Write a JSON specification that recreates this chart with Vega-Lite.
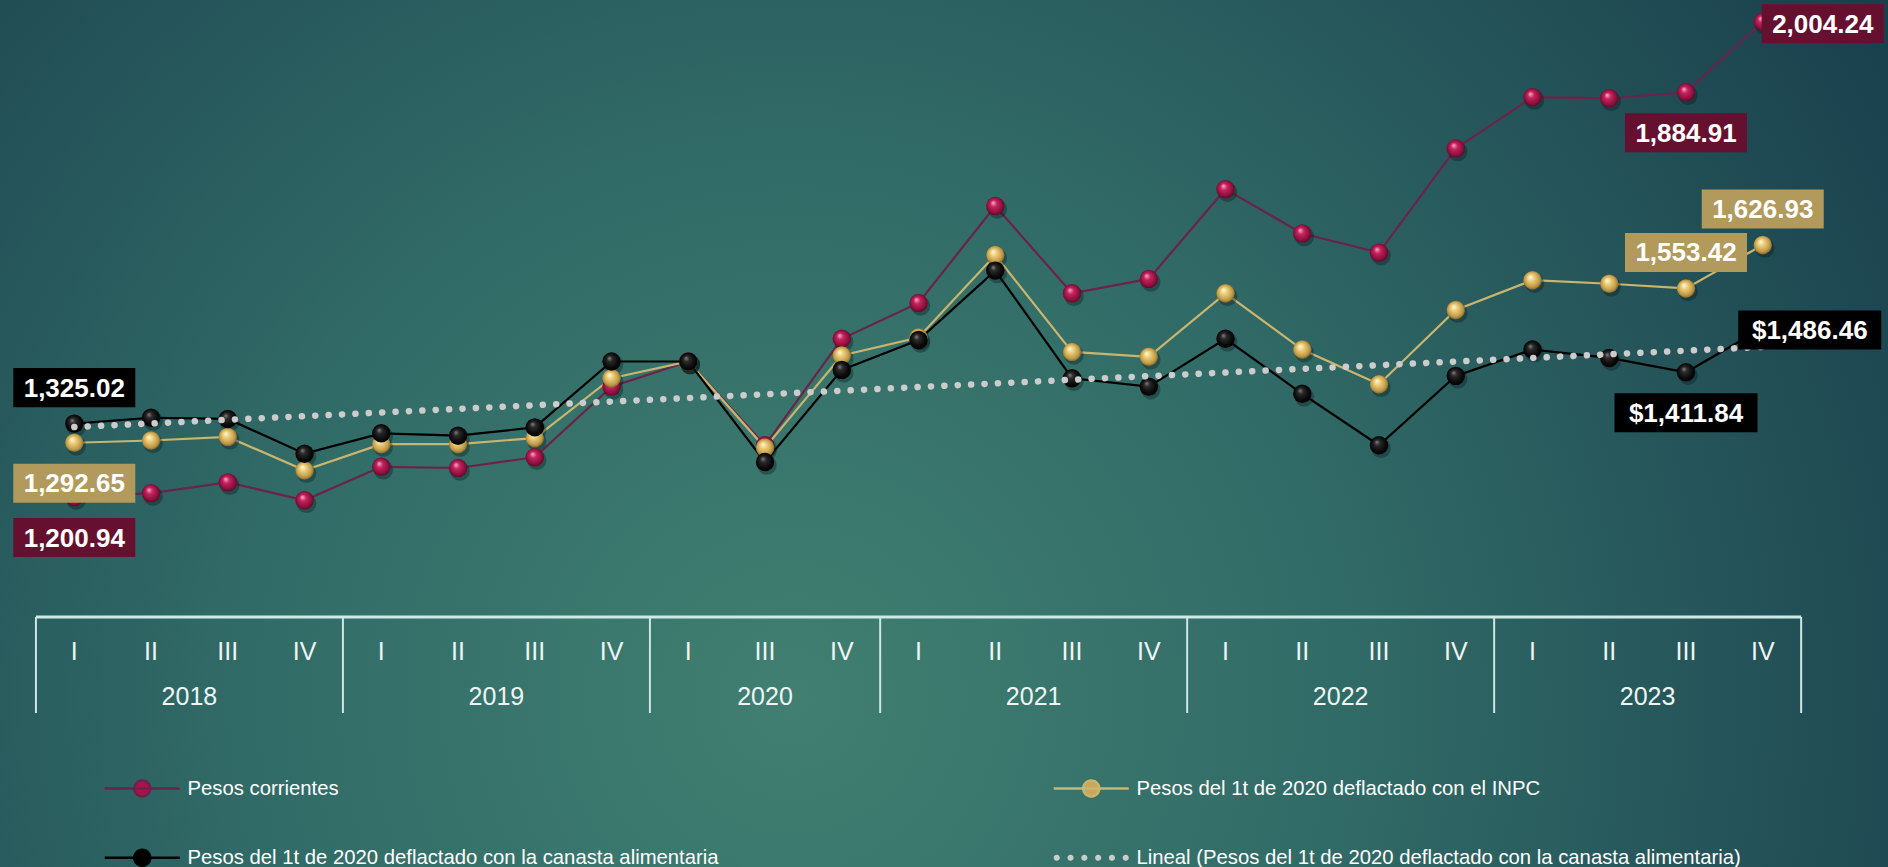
{
  "$schema": "https://vega.github.io/schema/vega-lite/v6.json",
  "width": 1888,
  "height": 867,
  "autosize": {"type": "fit", "contains": "padding"},
  "padding": 0,
  "background": "#2a6063",
  "config": {"view": {"stroke": null}, "font": "Liberation Sans"},
  "datasets": {
    "trimestres": [
      {"i": 0, "p": "2018-I", "q": "I", "year": "2018", "Pesos corrientes": 1200.94, "Pesos del 1t de 2020 deflactado con el INPC": 1292.65, "Pesos del 1t de 2020 deflactado con la canasta alimentaria": 1325.02},
      {"i": 1, "p": "2018-II", "q": "II", "year": "2018", "Pesos corrientes": 1207.5, "Pesos del 1t de 2020 deflactado con el INPC": 1296.5, "Pesos del 1t de 2020 deflactado con la canasta alimentaria": 1334.9},
      {"i": 2, "p": "2018-III", "q": "III", "year": "2018", "Pesos corrientes": 1225.7, "Pesos del 1t de 2020 deflactado con el INPC": 1302.6, "Pesos del 1t de 2020 deflactado con la canasta alimentaria": 1332.9},
      {"i": 3, "p": "2018-IV", "q": "IV", "year": "2018", "Pesos corrientes": 1195.4, "Pesos del 1t de 2020 deflactado con el INPC": 1246.0, "Pesos del 1t de 2020 deflactado con la canasta alimentaria": 1274.2},
      {"i": 4, "p": "2019-I", "q": "I", "year": "2019", "Pesos corrientes": 1252.0, "Pesos del 1t de 2020 deflactado con el INPC": 1290.4, "Pesos del 1t de 2020 deflactado con la canasta alimentaria": 1308.6},
      {"i": 5, "p": "2019-II", "q": "II", "year": "2019", "Pesos corrientes": 1250.0, "Pesos del 1t de 2020 deflactado con el INPC": 1290.4, "Pesos del 1t de 2020 deflactado con la canasta alimentaria": 1304.6},
      {"i": 6, "p": "2019-III", "q": "III", "year": "2019", "Pesos corrientes": 1268.2, "Pesos del 1t de 2020 deflactado con el INPC": 1300.6, "Pesos del 1t de 2020 deflactado con la canasta alimentaria": 1318.7},
      {"i": 7, "p": "2019-IV", "q": "IV", "year": "2019", "Pesos corrientes": 1387.5, "Pesos del 1t de 2020 deflactado con el INPC": 1401.7, "Pesos del 1t de 2020 deflactado con la canasta alimentaria": 1430.0},
      {"i": 8, "p": "2020-I", "q": "I", "year": "2020", "Pesos corrientes": 1430.0, "Pesos del 1t de 2020 deflactado con el INPC": 1430.0, "Pesos del 1t de 2020 deflactado con la canasta alimentaria": 1430.0},
      {"i": 9, "p": "2020-III", "q": "III", "year": "2020", "Pesos corrientes": 1288.4, "Pesos del 1t de 2020 deflactado con el INPC": 1284.4, "Pesos del 1t de 2020 deflactado con la canasta alimentaria": 1260.1},
      {"i": 10, "p": "2020-IV", "q": "IV", "year": "2020", "Pesos corrientes": 1468.4, "Pesos del 1t de 2020 deflactado con el INPC": 1440.1, "Pesos del 1t de 2020 deflactado con la canasta alimentaria": 1415.8},
      {"i": 11, "p": "2021-I", "q": "I", "year": "2021", "Pesos corrientes": 1529.0, "Pesos del 1t de 2020 deflactado con el INPC": 1470.4, "Pesos del 1t de 2020 deflactado con la canasta alimentaria": 1466.4},
      {"i": 12, "p": "2021-II", "q": "II", "year": "2021", "Pesos corrientes": 1692.8, "Pesos del 1t de 2020 deflactado con el INPC": 1609.9, "Pesos del 1t de 2020 deflactado con la canasta alimentaria": 1583.6},
      {"i": 13, "p": "2021-III", "q": "III", "year": "2021", "Pesos corrientes": 1545.2, "Pesos del 1t de 2020 deflactado con el INPC": 1446.2, "Pesos del 1t de 2020 deflactado con la canasta alimentaria": 1401.7},
      {"i": 14, "p": "2021-IV", "q": "IV", "year": "2021", "Pesos corrientes": 1569.5, "Pesos del 1t de 2020 deflactado con el INPC": 1438.0, "Pesos del 1t de 2020 deflactado con la canasta alimentaria": 1387.5},
      {"i": 15, "p": "2022-I", "q": "I", "year": "2022", "Pesos corrientes": 1721.2, "Pesos del 1t de 2020 deflactado con el INPC": 1545.2, "Pesos del 1t de 2020 deflactado con la canasta alimentaria": 1468.4},
      {"i": 16, "p": "2022-II", "q": "II", "year": "2022", "Pesos corrientes": 1646.3, "Pesos del 1t de 2020 deflactado con el INPC": 1450.2, "Pesos del 1t de 2020 deflactado con la canasta alimentaria": 1375.4},
      {"i": 17, "p": "2022-III", "q": "III", "year": "2022", "Pesos corrientes": 1614.0, "Pesos del 1t de 2020 deflactado con el INPC": 1391.5, "Pesos del 1t de 2020 deflactado con la canasta alimentaria": 1288.4},
      {"i": 18, "p": "2022-IV", "q": "IV", "year": "2022", "Pesos corrientes": 1789.9, "Pesos del 1t de 2020 deflactado con el INPC": 1517.0, "Pesos del 1t de 2020 deflactado con la canasta alimentaria": 1405.7},
      {"i": 19, "p": "2023-I", "q": "I", "year": "2023", "Pesos corrientes": 1876.8, "Pesos del 1t de 2020 deflactado con el INPC": 1567.4, "Pesos del 1t de 2020 deflactado con la canasta alimentaria": 1450.2},
      {"i": 20, "p": "2023-II", "q": "II", "year": "2023", "Pesos corrientes": 1874.8, "Pesos del 1t de 2020 deflactado con el INPC": 1561.4, "Pesos del 1t de 2020 deflactado con la canasta alimentaria": 1436.0},
      {"i": 21, "p": "2023-III", "q": "III", "year": "2023", "Pesos corrientes": 1884.91, "Pesos del 1t de 2020 deflactado con el INPC": 1553.42, "Pesos del 1t de 2020 deflactado con la canasta alimentaria": 1411.84},
      {"i": 22, "p": "2023-IV", "q": "IV", "year": "2023", "Pesos corrientes": 2004.24, "Pesos del 1t de 2020 deflactado con el INPC": 1626.93, "Pesos del 1t de 2020 deflactado con la canasta alimentaria": 1486.46}
    ],
    "etiquetas": [
      {"i": 0, "s": "Pesos del 1t de 2020 deflactado con la canasta alimentaria", "v": 1325.02, "t": "1,325.02"},
      {"i": 0, "s": "Pesos del 1t de 2020 deflactado con el INPC", "v": 1292.65, "t": "1,292.65"},
      {"i": 0, "s": "Pesos corrientes", "v": 1200.94, "t": "1,200.94"},
      {"i": 21, "s": "Pesos corrientes", "v": 1884.91, "t": "1,884.91"},
      {"i": 22, "s": "Pesos corrientes", "v": 2004.24, "t": "2,004.24"},
      {"i": 21, "s": "Pesos del 1t de 2020 deflactado con el INPC", "v": 1553.42, "t": "1,553.42"},
      {"i": 22, "s": "Pesos del 1t de 2020 deflactado con el INPC", "v": 1626.93, "t": "1,626.93"},
      {"i": 21, "s": "Pesos del 1t de 2020 deflactado con la canasta alimentaria", "v": 1411.84, "t": "$1,411.84"},
      {"i": 22, "s": "Pesos del 1t de 2020 deflactado con la canasta alimentaria", "v": 1486.46, "t": "$1,486.46"}
    ]
  },
  "resolve": {"scale": {"x": "independent", "y": "independent"}},
  "layer": [
    {
      "data": {"values": [{}]},
      "mark": {
        "type": "rect",
        "fill": {
          "gradient": "radial",
          "x1": 0.42, "y1": 0.64, "r1": 0,
          "x2": 0.42, "y2": 0.64, "r2": 0.72,
          "stops": [
            {"offset": 0, "color": "#407f71"},
            {"offset": 0.4, "color": "#316b67"},
            {"offset": 1, "color": "#173b4a"}
          ]
        }
      },
      "encoding": {}
    },
    {
      "data": {"name": "trimestres"},
      "resolve": {"scale": {"x": "independent"}},
      "layer": [
        {
          "layer": [
            {
              "transform": [{"filter": "datum.q === 'I'"}],
              "mark": {"type": "rule", "color": "#cfe6e3", "strokeWidth": 2},
              "encoding": {
                "x": {"field": "p", "type": "nominal", "bandPosition": 0, "sort": null, "scale": {"type": "band", "domain": ["2018-I", "2018-II", "2018-III", "2018-IV", "2019-I", "2019-II", "2019-III", "2019-IV", "2020-I", "2020-III", "2020-IV", "2021-I", "2021-II", "2021-III", "2021-IV", "2022-I", "2022-II", "2022-III", "2022-IV", "2023-I", "2023-II", "2023-III", "2023-IV"], "paddingInner": 0, "paddingOuter": 0.8, "align": 0.2927}, "axis": null},
                "y": {"datum": 0, "type": "quantitative", "scale": {"domain": [0, 1], "range": [617, 713], "nice": false, "zero": false}, "axis": null},
                "y2": {"datum": 1}
              }
            },
            {
              "transform": [{"filter": "datum.p === '2023-IV'"}],
              "mark": {"type": "rule", "color": "#cfe6e3", "strokeWidth": 2},
              "encoding": {
                "x": {"field": "p", "type": "nominal", "bandPosition": 1, "sort": null, "scale": {"type": "band", "domain": ["2018-I", "2018-II", "2018-III", "2018-IV", "2019-I", "2019-II", "2019-III", "2019-IV", "2020-I", "2020-III", "2020-IV", "2021-I", "2021-II", "2021-III", "2021-IV", "2022-I", "2022-II", "2022-III", "2022-IV", "2023-I", "2023-II", "2023-III", "2023-IV"], "paddingInner": 0, "paddingOuter": 0.8, "align": 0.2927}, "axis": null},
                "y": {"datum": 0, "type": "quantitative", "scale": {"domain": [0, 1], "range": [617, 713], "nice": false, "zero": false}, "axis": null},
                "y2": {"datum": 1}
              }
            }
          ]
        },
        {
          "layer": [
            {
              "data": {"values": [{}]},
              "mark": {"type": "rule", "color": "#cdeae6", "strokeWidth": 3},
              "encoding": {
                "x": {"datum": -0.5, "type": "quantitative", "scale": {"domain": [-0.9681, 23.632], "nice": false, "zero": false}, "axis": null},
                "x2": {"datum": 22.5},
                "y": {"datum": 0, "type": "quantitative", "scale": {"domain": [0, 1], "range": [617, 713], "nice": false, "zero": false}, "axis": null}
              }
            },
            {
              "mark": {"type": "text", "fontSize": 25, "color": "#eef5f3", "baseline": "middle", "align": "center"},
              "encoding": {
                "x": {"field": "i", "type": "quantitative", "scale": {"domain": [-0.9681, 23.632], "nice": false, "zero": false}, "axis": null},
                "y": {"datum": 0.36, "type": "quantitative", "scale": {"domain": [0, 1], "range": [617, 713], "nice": false, "zero": false}, "axis": null},
                "text": {"field": "q"}
              }
            },
            {
              "mark": {"type": "text", "fontSize": 25, "color": "#eef5f3", "baseline": "middle", "align": "center"},
              "encoding": {
                "x": {"aggregate": "mean", "field": "i", "type": "quantitative", "scale": {"domain": [-0.9681, 23.632], "nice": false, "zero": false}, "axis": null},
                "y": {"datum": 0.833, "type": "quantitative", "scale": {"domain": [0, 1], "range": [617, 713], "nice": false, "zero": false}, "axis": null},
                "text": {"field": "year"}
              }
            }
          ]
        }
      ]
    },
    {
      "data": {"name": "trimestres"},
      "transform": [{"fold": ["Pesos corrientes", "Pesos del 1t de 2020 deflactado con el INPC", "Pesos del 1t de 2020 deflactado con la canasta alimentaria"], "as": ["s", "v"]}],
      "encoding": {
        "x": {"field": "i", "type": "quantitative", "scale": {"domain": [-0.9681, 23.632], "nice": false, "zero": false}, "axis": null},
        "y": {"field": "v", "type": "quantitative", "scale": {"domain": [575.7, 2040.9], "nice": false, "zero": false}, "axis": null}
      },
      "layer": [
        {
          "mark": {"type": "line", "strokeWidth": 2.2},
          "encoding": {
            "color": {
              "field": "s", "type": "nominal",
              "scale": {"domain": ["Pesos corrientes", "Pesos del 1t de 2020 deflactado con el INPC", "Pesos del 1t de 2020 deflactado con la canasta alimentaria", "Lineal (Pesos del 1t de 2020 deflactado con la canasta alimentaria)"], "range": ["#6a2449", "#c9b56e", "#000000", "#cccccc"]},
              "legend": {
                "orient": "none", "legendX": 125.75, "legendY": 771.75, "direction": "horizontal",
                "columns": 2, "columnPadding": 330, "rowPadding": 39.5, "padding": 0, "title": null,
                "labelFont": "Liberation Sans", "labelFontSize": 20.3, "labelColor": "#ffffff", "labelOffset": 28.75, "labelLimit": 700,
                "symbolSize": 900, "symbolStrokeWidth": 2.5, "symbolOffset": 0,
                "encode": {
                  "symbols": {
                    "update": {
                      "shape": {"signal": "indexof(datum.value,'Lineal')===0 ? 'M-2.42,0A0.12,0.12,0,1,0,-2.18,0A0.12,0.12,0,1,0,-2.42,0ZM-1.5,0A0.12,0.12,0,1,0,-1.26,0A0.12,0.12,0,1,0,-1.5,0ZM-0.58,0A0.12,0.12,0,1,0,-0.34,0A0.12,0.12,0,1,0,-0.58,0ZM0.34,0A0.12,0.12,0,1,0,0.58,0A0.12,0.12,0,1,0,0.34,0ZM1.26,0A0.12,0.12,0,1,0,1.5,0A0.12,0.12,0,1,0,1.26,0ZM2.18,0A0.12,0.12,0,1,0,2.42,0A0.12,0.12,0,1,0,2.18,0Z' : 'M-2.5,0H2.5M-0.533,0A0.533,0.533,0,1,0,0.533,0A0.533,0.533,0,1,0,-0.533,0Z'"},
                      "fill": {"signal": "datum.value === 'Pesos corrientes' ? '#a3164b' : (datum.value === 'Pesos del 1t de 2020 deflactado con el INPC' ? '#c9a65a' : scale('color', datum.value))"},
                      "stroke": {"signal": "datum.value === 'Pesos del 1t de 2020 deflactado con el INPC' ? '#b8963f' : scale('color', datum.value)"},
                      "strokeDash": {"value": [1, 0]},
                      "opacity": {"value": 1}
                    }
                  }
                }
              }
            }
          }
        },
        {
          "mark": {"type": "point", "filled": true, "size": 380, "opacity": 0.35, "fill": "#061619", "strokeWidth": 0, "xOffset": 2, "yOffset": 3},
          "encoding": {}
        },
        {
          "transform": [{"filter": "datum.s === 'Pesos corrientes'"}],
          "mark": {
            "type": "point", "filled": true, "size": 340, "opacity": 1, "strokeWidth": 0,
            "fill": {"gradient": "radial", "x1": 0.38, "y1": 0.32, "r1": 0.02, "x2": 0.5, "y2": 0.5, "r2": 0.55,
              "stops": [{"offset": 0, "color": "#ff9ec0"}, {"offset": 0.3, "color": "#c4245e"}, {"offset": 0.75, "color": "#8a0f3c"}, {"offset": 1, "color": "#4d0720"}]}
          },
          "encoding": {}
        },
        {
          "transform": [{"filter": "datum.s === 'Pesos del 1t de 2020 deflactado con el INPC'"}],
          "mark": {
            "type": "point", "filled": true, "size": 340, "opacity": 1, "strokeWidth": 0,
            "fill": {"gradient": "radial", "x1": 0.38, "y1": 0.32, "r1": 0.02, "x2": 0.5, "y2": 0.5, "r2": 0.55,
              "stops": [{"offset": 0, "color": "#fff6d2"}, {"offset": 0.3, "color": "#ecce7c"}, {"offset": 0.75, "color": "#bf9945"}, {"offset": 1, "color": "#6e5420"}]}
          },
          "encoding": {}
        },
        {
          "transform": [{"filter": "datum.s === 'Pesos del 1t de 2020 deflactado con la canasta alimentaria'"}],
          "mark": {
            "type": "point", "filled": true, "size": 340, "opacity": 1, "strokeWidth": 0,
            "fill": {"gradient": "radial", "x1": 0.38, "y1": 0.32, "r1": 0.02, "x2": 0.5, "y2": 0.5, "r2": 0.55,
              "stops": [{"offset": 0, "color": "#7a7a7a"}, {"offset": 0.25, "color": "#2a2a2a"}, {"offset": 0.7, "color": "#0a0a0a"}, {"offset": 1, "color": "#000000"}]}
          },
          "encoding": {}
        },
        {
          "transform": [
            {"filter": "datum.s === 'Pesos del 1t de 2020 deflactado con la canasta alimentaria'"},
            {"regression": "v", "on": "i"}
          ],
          "mark": {"type": "line", "strokeDash": [0.1, 13.3], "strokeCap": "round", "strokeWidth": 6.5},
          "encoding": {
            "color": {
              "datum": "Lineal (Pesos del 1t de 2020 deflactado con la canasta alimentaria)", "type": "nominal",
              "scale": {"domain": ["Pesos corrientes", "Pesos del 1t de 2020 deflactado con el INPC", "Pesos del 1t de 2020 deflactado con la canasta alimentaria", "Lineal (Pesos del 1t de 2020 deflactado con la canasta alimentaria)"], "range": ["#6a2449", "#c9b56e", "#000000", "#cccccc"]}
            }
          }
        },
        {
          "data": {"name": "etiquetas"},
          "transform": [{"filter": {"field": "t", "oneOf": ["1,325.02", "1,553.42", "1,626.93"]}}],
          "layer": [
            {
              "mark": {"type": "point", "filled": true, "size": 14884, "opacity": 1, "strokeWidth": 0, "yOffset": -36},
              "encoding": {
                "shape": {"value": "M-1,-0.32H1V0.32H-1Z"},
                "fill": {"field": "s", "type": "nominal", "scale": {"domain": ["Pesos corrientes", "Pesos del 1t de 2020 deflactado con el INPC", "Pesos del 1t de 2020 deflactado con la canasta alimentaria"], "range": ["#66102f", "#b29a5c", "#000000"]}, "legend": null}
              }
            },
            {
              "mark": {"type": "text", "fontSize": 26, "fontWeight": "bold", "color": "#ffffff", "align": "center", "baseline": "middle", "yOffset": -35},
              "encoding": {"text": {"field": "t"}}
            }
          ]
        },
        {
          "data": {"name": "etiquetas"},
          "transform": [{"filter": {"field": "t", "oneOf": ["1,292.65", "1,200.94", "1,884.91"]}}],
          "layer": [
            {
              "mark": {"type": "point", "filled": true, "size": 14884, "opacity": 1, "strokeWidth": 0, "yOffset": 40.5},
              "encoding": {
                "shape": {"value": "M-1,-0.32H1V0.32H-1Z"},
                "fill": {"field": "s", "type": "nominal", "scale": {"domain": ["Pesos corrientes", "Pesos del 1t de 2020 deflactado con el INPC", "Pesos del 1t de 2020 deflactado con la canasta alimentaria"], "range": ["#66102f", "#b29a5c", "#000000"]}, "legend": null}
              }
            },
            {
              "mark": {"type": "text", "fontSize": 26, "fontWeight": "bold", "color": "#ffffff", "align": "center", "baseline": "middle", "yOffset": 41.5},
              "encoding": {"text": {"field": "t"}}
            }
          ]
        },
        {
          "data": {"name": "etiquetas"},
          "transform": [{"filter": {"field": "t", "oneOf": ["$1,411.84"]}}],
          "layer": [
            {
              "mark": {"type": "point", "filled": true, "size": 14884, "opacity": 1, "strokeWidth": 0, "yOffset": 40.5},
              "encoding": {
                "shape": {"value": "M-1.172,-0.32H1.172V0.32H-1.172Z"},
                "fill": {"field": "s", "type": "nominal", "scale": {"domain": ["Pesos corrientes", "Pesos del 1t de 2020 deflactado con el INPC", "Pesos del 1t de 2020 deflactado con la canasta alimentaria"], "range": ["#66102f", "#b29a5c", "#000000"]}, "legend": null}
              }
            },
            {
              "mark": {"type": "text", "fontSize": 26, "fontWeight": "bold", "color": "#ffffff", "align": "center", "baseline": "middle", "yOffset": 41.5},
              "encoding": {"text": {"field": "t"}}
            }
          ]
        },
        {
          "data": {"name": "etiquetas"},
          "transform": [{"filter": {"field": "t", "oneOf": ["2,004.24"]}}],
          "layer": [
            {
              "mark": {"type": "point", "filled": true, "size": 14884, "opacity": 1, "strokeWidth": 0, "xOffset": 60, "yOffset": 2},
              "encoding": {
                "shape": {"value": "M-1,-0.32H1V0.32H-1Z"},
                "fill": {"field": "s", "type": "nominal", "scale": {"domain": ["Pesos corrientes", "Pesos del 1t de 2020 deflactado con el INPC", "Pesos del 1t de 2020 deflactado con la canasta alimentaria"], "range": ["#66102f", "#b29a5c", "#000000"]}, "legend": null}
              }
            },
            {
              "mark": {"type": "text", "fontSize": 26, "fontWeight": "bold", "color": "#ffffff", "align": "center", "baseline": "middle", "xOffset": 60, "yOffset": 3},
              "encoding": {"text": {"field": "t"}}
            }
          ]
        },
        {
          "data": {"name": "etiquetas"},
          "transform": [{"filter": {"field": "t", "oneOf": ["$1,486.46"]}}],
          "layer": [
            {
              "mark": {"type": "point", "filled": true, "size": 14884, "opacity": 1, "strokeWidth": 0, "xOffset": 47, "yOffset": 2},
              "encoding": {
                "shape": {"value": "M-1.172,-0.32H1.172V0.32H-1.172Z"},
                "fill": {"field": "s", "type": "nominal", "scale": {"domain": ["Pesos corrientes", "Pesos del 1t de 2020 deflactado con el INPC", "Pesos del 1t de 2020 deflactado con la canasta alimentaria"], "range": ["#66102f", "#b29a5c", "#000000"]}, "legend": null}
              }
            },
            {
              "mark": {"type": "text", "fontSize": 26, "fontWeight": "bold", "color": "#ffffff", "align": "center", "baseline": "middle", "xOffset": 47, "yOffset": 3},
              "encoding": {"text": {"field": "t"}}
            }
          ]
        }
      ]
    }
  ]
}
